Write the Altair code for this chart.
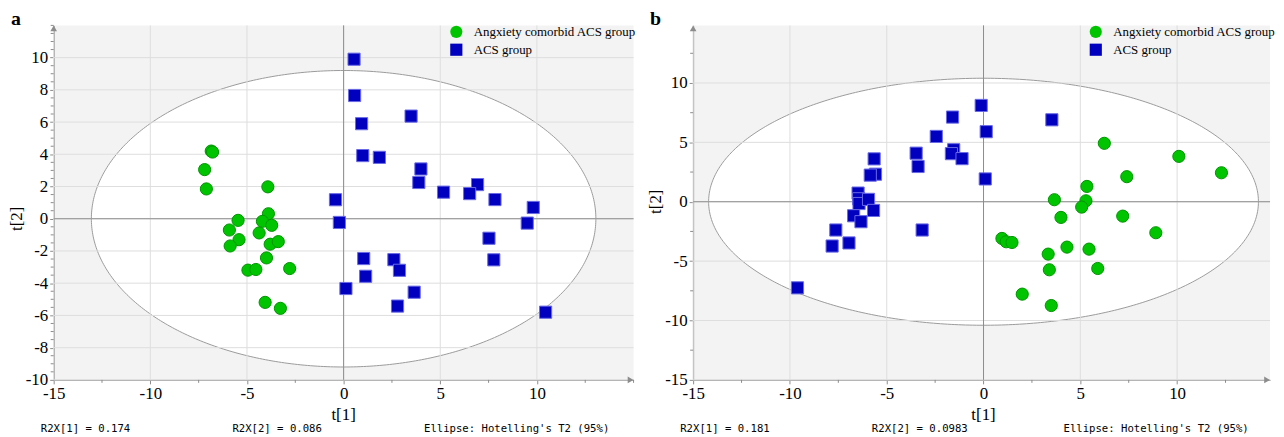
import altair as alt
import numpy as np
import pandas as pd

# ---------------- data ----------------
groups = ["Angxiety comorbid ACS group", "ACS group"]
fill_colors = ["#00c400", "#0000be"]
edge_colors = ["#009400", "#6a6ae6"]
shapes = ["circle", "square"]

x_ticks = [-15, -10, -5, 0, 5, 10]
a_y_ticks = [-10, -8, -6, -4, -2, 0, 2, 4, 6, 8, 10]
b_y_ticks = [-15, -10, -5, 0, 5, 10]
# minor tick steps (axis decoration)
x_minor_step = 2.5
a_y_minor_step = 0.5
b_y_minor_step = 2.5

# panel a
a_anx_t1 = [-6.85, -6.78, -7.19, -7.10, -3.92, -3.89, -5.46, -4.20, -3.72, -5.91, -4.37,
            -5.41, -5.87, -3.80, -3.38, -3.99, -4.95, -4.54, -2.79, -4.06, -3.27]
a_anx_t2 = [4.20, 4.14, 3.05, 1.85, 1.98, 0.31, -0.10, -0.16, -0.41, -0.70, -0.88,
            -1.30, -1.69, -1.58, -1.42, -2.43, -3.19, -3.15, -3.09, -5.19, -5.56]
a_acs_t1 = [0.54, 0.57, 0.93, 3.49, 0.99, 1.85, 4.00, 3.89, 5.17, -0.42, -0.22, 1.04, 2.60,
            2.89, 1.14, 0.12, 3.65, 2.79, 6.93, 6.52, 7.83, 9.81, 9.50, 7.52, 7.77, 10.45]
a_acs_t2 = [9.90, 7.65, 5.90, 6.37, 3.92, 3.81, 3.09, 2.25, 1.65, 1.18, -0.23, -2.47, -2.54,
            -3.20, -3.57, -4.33, -4.56, -5.42, 2.12, 1.56, 1.19, 0.70, -0.27, -1.21, -2.55, -5.80]

# panel b
b_anx_t1 = [6.24, 10.09, 12.29, 7.40, 5.34, 3.66, 5.29, 5.07, 4.00, 7.19, 8.90, 0.95, 1.17,
            1.47, 4.31, 5.45, 3.34, 3.40, 5.90, 2.00, 3.50]
b_anx_t2 = [4.92, 3.82, 2.44, 2.11, 1.29, 0.17, 0.08, -0.45, -1.32, -1.21, -2.61, -3.09, -3.37,
            -3.43, -3.82, -3.99, -4.41, -5.73, -5.62, -7.78, -8.74]
b_acs_t1 = [-2.44, -3.48, -3.38, -5.65, -5.58, -5.85, -6.48, -6.45, -6.43, -5.94, -5.68, -6.71,
            -6.33, -7.63, -6.95, -7.82, -3.17, -9.61, -0.12, -1.60, 0.14, 3.53, -1.54, -1.66,
            -1.11, 0.09]
b_acs_t2 = [5.50, 4.09, 2.97, 3.61, 2.32, 2.24, 0.73, 0.25, -0.15, 0.20, -0.73, -1.18,
            -1.68, -2.38, -3.47, -3.73, -2.38, -7.25, 8.11, 7.13, 5.90, 6.90, 4.38, 4.05,
            3.63, 1.92]

a_r2x = ["R2X[1] = 0.174", "R2X[2] = 0.086"]
b_r2x = ["R2X[1] = 0.181", "R2X[2] = 0.0983"]
ellipse_note = "Ellipse: Hotelling's T2 (95%)"

# Hotelling T2 ellipse semi-axes (t1, t2)
a_ellipse = (13.05, 9.2)
b_ellipse = (14.2, 10.4)

SERIF = "Liberation Serif"
MONO = "DejaVu Sans Mono"
AXIS_GRAY = "#8c8c8c"
GRID_GRAY = "#dedede"


def panel(letter, anx_t1, anx_t2, acs_t1, acs_t2, xdom, ydom, yticks, ymstep, ell, r2x, W, H):
    xs = alt.Scale(domain=xdom, nice=False, zero=False)
    ys = alt.Scale(domain=ydom, nice=False, zero=False)
    ax_style = dict(title=None, labelExpr="'' + datum.value", labelFont=SERIF,
                    labelFontSize=17, labelColor="black", domainColor=AXIS_GRAY,
                    tickColor=AXIS_GRAY, tickSize=4, labelPadding=2, grid=False,
                    labelFlush=False, labelOverlap=False)
    xax = alt.Axis(values=x_ticks, **ax_style)
    yax = alt.Axis(values=yticks, **ax_style)

    def X(f):
        return alt.X(f, scale=xs, axis=xax, title=None)

    def Y(f):
        return alt.Y(f, scale=ys, axis=yax, title=None)

    t = np.linspace(0, np.pi, 241)
    ell_df = pd.DataFrame({"ex": ell[0] * np.cos(t), "ey": ell[1] * np.sin(t),
                           "ey2": -ell[1] * np.sin(t)})
    ellipse = alt.Chart(ell_df).mark_area(
        fill="white", fillOpacity=1, stroke="#9a9a9a", strokeWidth=1
    ).encode(x=X("ex:Q"), y=Y("ey:Q"), y2="ey2:Q")

    vgrid = alt.Chart(pd.DataFrame({"v": x_ticks})).mark_rule(color=GRID_GRAY).encode(x=X("v:Q"))
    hgrid = alt.Chart(pd.DataFrame({"v": yticks})).mark_rule(color=GRID_GRAY).encode(y=Y("v:Q"))
    zx = alt.Chart(pd.DataFrame({"v": [0]})).mark_rule(color=AXIS_GRAY).encode(x=X("v:Q"))
    zy = alt.Chart(pd.DataFrame({"v": [0]})).mark_rule(color=AXIS_GRAY).encode(y=Y("v:Q"))

    # minor ticks
    xm = [v for v in np.arange(xdom[0], xdom[1] + 1e-9, x_minor_step) if v not in x_ticks]
    ym = [v for v in np.arange(ydom[0], ydom[1] + 1e-9, ymstep) if v not in yticks]
    xminor = alt.Chart(pd.DataFrame({"v": xm})).mark_rule(color=AXIS_GRAY).encode(
        x=X("v:Q"), y=alt.value(H), y2=alt.value(H + 3))
    yminor = alt.Chart(pd.DataFrame({"v": ym})).mark_rule(color=AXIS_GRAY).encode(
        y=Y("v:Q"), x=alt.value(-3), x2=alt.value(0))

    pts = pd.DataFrame({
        "t1": anx_t1 + acs_t1,
        "t2": anx_t2 + acs_t2,
        "group": [groups[0]] * len(anx_t1) + [groups[1]] * len(acs_t1),
    })
    leg = alt.Legend(orient="none", legendX=399, legendY=0, title=None,
                     labelFont=SERIF, labelFontSize=13, labelColor="black",
                     symbolSize=150, rowPadding=4, padding=0, labelOffset=11,
                     labelLimit=400, symbolStrokeWidth=0)
    points = alt.Chart(pts).mark_point(filled=True, size=150, strokeWidth=1, opacity=1).encode(
        x=X("t1:Q"),
        y=Y("t2:Q"),
        color=alt.Color("group:N", scale=alt.Scale(domain=groups, range=fill_colors), legend=leg),
        shape=alt.Shape("group:N", scale=alt.Scale(domain=groups, range=shapes), legend=leg),
        stroke=alt.Stroke("group:N", scale=alt.Scale(domain=groups, range=edge_colors), legend=None),
    )

    one = pd.DataFrame({"k": [0]})
    arrow_up = alt.Chart(one).mark_point(shape="triangle-up", filled=True, size=45,
                                         color=AXIS_GRAY, opacity=1).encode(
        x=alt.value(0), y=alt.value(3))
    arrow_right = alt.Chart(one).mark_point(shape="triangle-right", filled=True, size=45,
                                            color=AXIS_GRAY, opacity=1).encode(
        x=alt.value(W - 3), y=alt.value(H))

    letter_t = alt.Chart(pd.DataFrame({"s": [letter]})).mark_text(
        font=SERIF, fontSize=20, fontWeight="bold", align="center", baseline="alphabetic",
        color="black").encode(text="s:N", x=alt.value(-38), y=alt.value(0))

    t1_title = alt.Chart(pd.DataFrame({"s": ["t[1]"], "v": [0]})).mark_text(
        font=SERIF, fontSize=17, align="center", baseline="middle", color="black").encode(
        text="s:N", x=X("v:Q"), y=alt.value(H + 35))
    t2_title = alt.Chart(pd.DataFrame({"s": ["t[2]"], "v": [0]})).mark_text(
        font=SERIF, fontSize=17, align="center", baseline="middle", angle=270,
        color="black").encode(text="s:N", x=alt.value(-37), y=Y("v:Q"))

    def foot(s, xpos):
        return alt.Chart(pd.DataFrame({"s": [s]})).mark_text(
            font=MONO, fontSize=10.7, align="left", baseline="alphabetic",
            color="black").encode(text="s:N", x=alt.value(xpos), y=alt.value(H + 52))

    f1 = foot(r2x[0], -13)
    f2 = foot(r2x[1], 180)
    f3 = foot(ellipse_note, 373)

    return alt.layer(ellipse, vgrid, hgrid, zx, zy, xminor, yminor, points, arrow_up,
                     arrow_right, letter_t, t1_title, t2_title, f1, f2, f3
                     ).properties(width=W, height=H)


pa = panel("a", a_anx_t1, a_anx_t2, a_acs_t1, a_acs_t2, [-15, 15], [-10, 12], a_y_ticks,
           a_y_minor_step, a_ellipse, a_r2x, 584, 357)
pb = panel("b", b_anx_t1, b_anx_t2, b_acs_t1, b_acs_t2, [-15, 14.8], [-15, 14.85], b_y_ticks,
           b_y_minor_step, b_ellipse, b_r2x, 581, 357)

chart = alt.hconcat(pa, pb, spacing=60, bounds="flush", padding=0).resolve_scale(
    color="independent", shape="independent", stroke="independent"
).resolve_legend(
    color="independent", shape="independent"
).configure_view(
    fill="#f3f3f3", stroke=None
)

chart.save("out.html", embed_options={"renderer": "svg", "actions": False})
